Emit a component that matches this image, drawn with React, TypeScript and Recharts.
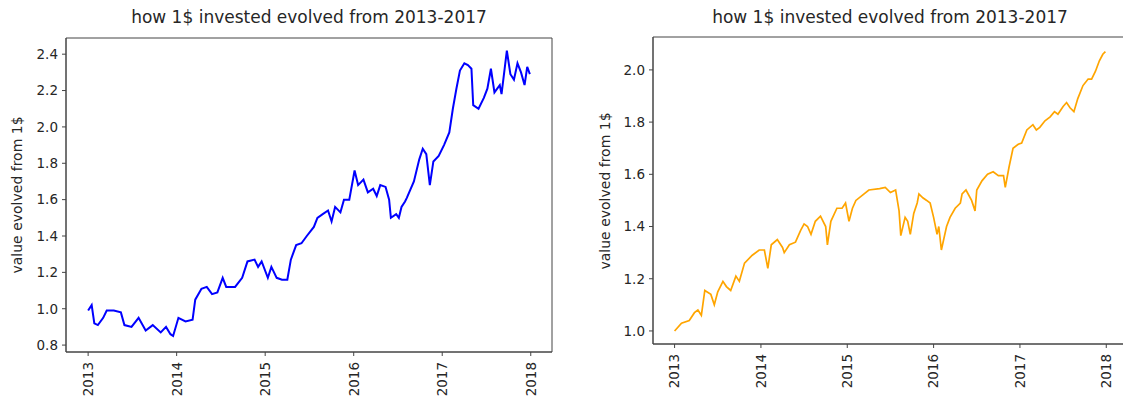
import React from "react";
import { LineChart, Line, XAxis, YAxis, ReferenceArea } from "recharts";

const yearTicks = [2013, 2014, 2015, 2016, 2017, 2018];
const leftYTicks = [0.8, 1.0, 1.2, 1.4, 1.6, 1.8, 2.0, 2.2, 2.4];
const rightYTicks = [1.0, 1.2, 1.4, 1.6, 1.8, 2.0];

const titleText = "how 1$ invested evolved from 2013-2017";
const yLabelText = "value evolved from 1$";

// blue series (left panel)
const blueDates = [
  2013.0, 2013.04, 2013.07, 2013.11, 2013.17, 2013.21, 2013.29, 2013.37, 2013.41, 2013.49,
  2013.57, 2013.65, 2013.73, 2013.82, 2013.88, 2013.93, 2013.96, 2014.02, 2014.1, 2014.18,
  2014.21, 2014.28, 2014.34, 2014.4, 2014.46, 2014.52, 2014.56, 2014.66, 2014.74, 2014.8,
  2014.88, 2014.92, 2014.96, 2015.03, 2015.07, 2015.13, 2015.19, 2015.25, 2015.29, 2015.35,
  2015.41, 2015.47, 2015.55, 2015.59, 2015.65, 2015.71, 2015.75, 2015.79, 2015.85, 2015.89,
  2015.95, 2016.01, 2016.05, 2016.11, 2016.16, 2016.22, 2016.26, 2016.3, 2016.36, 2016.4,
  2016.42, 2016.48, 2016.51, 2016.54, 2016.58, 2016.6, 2016.68, 2016.74, 2016.78, 2016.82,
  2016.86, 2016.9, 2016.96, 2017.02, 2017.08, 2017.12, 2017.16, 2017.2, 2017.25, 2017.29,
  2017.33, 2017.35, 2017.41, 2017.47, 2017.51, 2017.55, 2017.59, 2017.65, 2017.67, 2017.71,
  2017.73, 2017.77, 2017.81, 2017.85, 2017.89, 2017.93, 2017.96, 2017.99,
];
const blueValues = [
  0.99, 1.02, 0.92, 0.91, 0.95, 0.99, 0.99, 0.98, 0.91, 0.9,
  0.95, 0.88, 0.91, 0.87, 0.9, 0.86, 0.85, 0.95, 0.93, 0.94,
  1.05, 1.11, 1.12, 1.08, 1.09, 1.17, 1.12, 1.12, 1.17, 1.26,
  1.27, 1.23, 1.26, 1.17, 1.23, 1.17, 1.16, 1.16, 1.27, 1.35,
  1.36, 1.4, 1.45, 1.5, 1.52, 1.54, 1.48, 1.56, 1.53, 1.6,
  1.6, 1.76, 1.68, 1.71, 1.64, 1.66, 1.62, 1.68, 1.67, 1.6,
  1.5, 1.52, 1.5, 1.56, 1.59, 1.61, 1.7, 1.82, 1.88, 1.85,
  1.68, 1.81, 1.84, 1.9, 1.97, 2.1, 2.21, 2.31, 2.35, 2.34,
  2.32, 2.12, 2.1, 2.16, 2.21, 2.32, 2.19, 2.23, 2.18, 2.34,
  2.42, 2.29, 2.26, 2.35, 2.3, 2.23, 2.33, 2.29,
];

// orange series (right panel)
const orangeDates = [
  2013.0, 2013.08, 2013.17, 2013.23, 2013.27, 2013.31, 2013.35, 2013.42, 2013.46, 2013.5,
  2013.56, 2013.6, 2013.65, 2013.71, 2013.75, 2013.81, 2013.9, 2013.98, 2014.04, 2014.08,
  2014.12, 2014.19, 2014.25, 2014.27, 2014.33, 2014.4, 2014.46, 2014.5, 2014.54, 2014.58,
  2014.63, 2014.69, 2014.75, 2014.77, 2014.81, 2014.88, 2014.94, 2014.98, 2015.02, 2015.06,
  2015.1, 2015.25, 2015.375, 2015.44, 2015.5, 2015.56, 2015.6, 2015.62, 2015.67, 2015.7,
  2015.73, 2015.77, 2015.81, 2015.83, 2015.875, 2015.92, 2015.96, 2016.0, 2016.04, 2016.06,
  2016.09, 2016.15, 2016.19, 2016.25, 2016.31, 2016.33, 2016.375, 2016.44, 2016.48, 2016.5,
  2016.56, 2016.625, 2016.69, 2016.75, 2016.81, 2016.83, 2016.875, 2016.92, 2016.98, 2017.02,
  2017.08, 2017.15, 2017.19, 2017.23, 2017.29, 2017.35, 2017.4, 2017.44, 2017.5, 2017.54,
  2017.58, 2017.625, 2017.67, 2017.73, 2017.79, 2017.83, 2017.875, 2017.92, 2017.96, 2017.99,
];
const orangeValues = [
  1.0, 1.03, 1.04, 1.07, 1.08, 1.06, 1.155, 1.14, 1.1, 1.15,
  1.19, 1.17, 1.155, 1.21, 1.19, 1.26, 1.29, 1.31, 1.31, 1.24,
  1.33, 1.35, 1.32, 1.3, 1.33, 1.34, 1.385, 1.41, 1.4, 1.37,
  1.42, 1.44, 1.4, 1.33, 1.42, 1.47, 1.47, 1.49, 1.42, 1.47,
  1.5, 1.54, 1.545, 1.55, 1.53, 1.54, 1.46, 1.365, 1.435, 1.42,
  1.37, 1.45, 1.49, 1.525, 1.51, 1.5, 1.49, 1.435, 1.37, 1.4,
  1.31, 1.4, 1.435, 1.47, 1.49, 1.525, 1.54, 1.5, 1.46, 1.54,
  1.575, 1.6, 1.61, 1.595, 1.595, 1.55, 1.63, 1.7, 1.715, 1.72,
  1.77, 1.79, 1.77, 1.78, 1.805, 1.82, 1.84, 1.83, 1.86, 1.875,
  1.855, 1.84, 1.89, 1.94, 1.965, 1.965, 1.995, 2.035, 2.06, 2.07,
];

const xDomain: [number, number] = [2012.75, 2018.24];
const leftYDomain: [number, number] = [0.762, 2.489];
const rightYDomain: [number, number] = [0.95, 2.126];

const FONT = "DejaVu Sans";
const INK = "#262626";
const AXIS = "#444";

// vertical year labels under the x ticks
const YearTick = (props: any) => {
  const { x, y, payload } = props;
  return (
    <text
      x={x}
      y={y}
      dy="0.36em"
      transform={`rotate(-90, ${x}, ${y})`}
      textAnchor="end"
      fill={INK}
      fontSize={13.5}
      fontFamily={FONT}
    >
      {payload.value}
    </text>
  );
};

interface PanelProps {
  left: number;
  width: number;
  yAxisWidth: number;
  top: number;
  xAxisHeight: number;
  yDomain: [number, number];
  yTicks: number[];
  dates: number[];
  values: number[];
  color: string;
  strokeWidth: number;
  labelX: number;
}

function Panel({
  left,
  width,
  yAxisWidth,
  top,
  xAxisHeight,
  yDomain,
  yTicks,
  dates,
  values,
  color,
  strokeWidth,
  labelX,
}: PanelProps) {
  const data = dates.map((t, i) => ({ t, v: values[i] }));
  const plotLeft = yAxisWidth;
  const plotRight = width - 8;
  const plotBottom = 401 - xAxisHeight;
  const centerX = (plotLeft + plotRight) / 2;
  const centerY = (top + plotBottom) / 2;

  return (
    <div style={{ position: "absolute", left, top: 0, width, height: 401 }}>
      <div
        style={{
          position: "absolute",
          left: centerX - 250,
          width: 500,
          top: 7,
          textAlign: "center",
          fontFamily: FONT,
          fontSize: 17,
          lineHeight: "20px",
          color: INK,
          whiteSpace: "nowrap",
        }}
      >
        {titleText}
      </div>
      <div
        style={{
          position: "absolute",
          left: labelX - 100,
          top: centerY - 10,
          width: 200,
          height: 20,
          lineHeight: "20px",
          textAlign: "center",
          transform: "rotate(-90deg)",
          fontFamily: FONT,
          fontSize: 14,
          color: INK,
          whiteSpace: "nowrap",
        }}
      >
        {yLabelText}
      </div>
      <LineChart
        width={width}
        height={401}
        data={data}
        margin={{ top, right: 8, bottom: 0, left: 0 }}
      >
        <XAxis
          dataKey="t"
          type="number"
          domain={xDomain}
          ticks={yearTicks}
          allowDataOverflow
          height={xAxisHeight}
          stroke={AXIS}
          tickSize={4}
          tickMargin={6}
          tick={<YearTick />}
          interval={0}
        />
        <YAxis
          type="number"
          domain={yDomain}
          ticks={yTicks}
          allowDataOverflow
          width={yAxisWidth}
          stroke={AXIS}
          tickSize={4}
          tickMargin={4}
          interval={0}
          tickFormatter={(v: number) => v.toFixed(1)}
          tick={{ fill: INK, fontSize: 13.5, fontFamily: FONT }}
        />
        <ReferenceArea
          x1={xDomain[0]}
          x2={xDomain[1]}
          y1={yDomain[0]}
          y2={yDomain[1]}
          fill="none"
          stroke={AXIS}
          strokeWidth={1}
          ifOverflow="visible"
        />
        <Line
          dataKey="v"
          type="linear"
          stroke={color}
          strokeWidth={strokeWidth}
          dot={false}
          isAnimationActive={false}
        />
      </LineChart>
    </div>
  );
}

export default function App() {
  return (
    <div
      style={{
        position: "absolute",
        left: 0,
        top: 0,
        width: 1123,
        height: 401,
        overflow: "hidden",
        background: "#fff",
      }}
    >
      <Panel
        left={0}
        width={560}
        yAxisWidth={66}
        top={38}
        xAxisHeight={49}
        yDomain={leftYDomain}
        yTicks={leftYTicks}
        dates={blueDates}
        values={blueValues}
        color="#0000ff"
        strokeWidth={2}
        labelX={17}
      />
      <Panel
        left={560}
        width={575}
        yAxisWidth={93}
        top={37}
        xAxisHeight={57}
        yDomain={rightYDomain}
        yTicks={rightYTicks}
        dates={orangeDates}
        values={orangeValues}
        color="#ffa500"
        strokeWidth={1.7}
        labelX={45}
      />
    </div>
  );
}
